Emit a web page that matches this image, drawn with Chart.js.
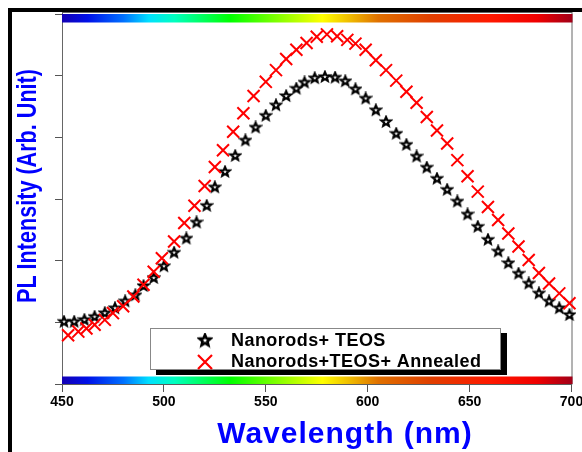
<!DOCTYPE html>
<html>
<head>
<meta charset="utf-8">
<script src="https://cdn.jsdelivr.net/npm/chart.js@4.4.1/dist/chart.umd.min.js"></script>
<style>
  html, body { margin: 0; padding: 0; background: #fff; }
  #wrap { width: 582px; height: 452px; }
</style>
</head>
<body>
<div id="wrap"><canvas id="plChart" width="582" height="452"></canvas></div>
<script>
// values (wavelength in nm, intensity in arb. units)
const teosX = [451, 456, 461, 466, 471, 476, 481, 486, 490, 495, 500, 505, 511, 516, 521, 525,
  530, 535, 540, 545, 550, 555, 560, 565, 569, 574, 579, 584, 589, 594, 599, 604, 609, 614,
  619, 624, 629, 634, 639, 644, 649, 654, 659, 664, 669, 674, 679, 684, 689, 694, 699];
const teosY = [1.01, 1.01, 1.04, 1.09, 1.15, 1.23, 1.34, 1.44, 1.59, 1.72, 1.91, 2.13, 2.36, 2.62, 2.89, 3.19,
  3.44, 3.70, 3.95, 4.16, 4.35, 4.52, 4.67, 4.79, 4.89, 4.96, 4.98, 4.97, 4.91, 4.78, 4.63, 4.44, 4.25, 4.06,
  3.88, 3.69, 3.51, 3.33, 3.15, 2.96, 2.75, 2.55, 2.34, 2.15, 1.96, 1.79, 1.63, 1.47, 1.34, 1.23, 1.12];

const annealedX = [453, 458, 462, 466, 471, 475, 480, 485, 490, 495, 499, 505, 510, 515, 520,
  525, 529, 534, 539, 544, 550, 555, 560, 565, 570, 575, 580, 585, 590, 594, 599, 604, 609, 614,
  619, 624, 629, 634, 639, 644, 649, 654, 659, 664, 669, 674, 679, 684, 689, 694, 699];
const annealedY = [0.79, 0.85, 0.90, 0.96, 1.04, 1.15, 1.26, 1.42, 1.61, 1.82, 2.04, 2.31, 2.61, 2.89, 3.21,
  3.52, 3.79, 4.09, 4.39, 4.67, 4.90, 5.09, 5.27, 5.42, 5.53, 5.63, 5.67, 5.64, 5.58, 5.52, 5.42, 5.25, 5.09, 4.92,
  4.74, 4.56, 4.33, 4.11, 3.90, 3.63, 3.37, 3.12, 2.87, 2.66, 2.44, 2.23, 2.01, 1.80, 1.63, 1.47, 1.31];

const seriesLabels = ["Nanorods+ TEOS", "Nanorods+TEOS+ Annealed"];
const xTicks = [450, 500, 550, 600, 650, 700];

const SPECTRUM = [
  [0, "#1400b4"], [0.05, "#0010e8"], [0.12, "#0070ff"], [0.17, "#00e0ff"], [0.22, "#00ffc0"],
  [0.33, "#00ff00"], [0.42, "#80ff00"], [0.51, "#ffff00"], [0.56, "#f0c000"], [0.62, "#e07000"],
  [0.72, "#e04000"], [0.84, "#ff1800"], [0.93, "#f00000"], [1, "#a00018"]
];

function makeStar(r, lw) {
  const size = Math.ceil(r * 2 + 4);
  const c = document.createElement("canvas");
  c.width = size;
  c.height = size;
  const g = c.getContext("2d");
  g.beginPath();
  for (let i = 0; i < 10; i++) {
    const rad = i % 2 === 0 ? r : r * 0.45;
    const a = -Math.PI / 2 + i * Math.PI / 5;
    g.lineTo(size / 2 + rad * Math.cos(a), size / 2 + rad * Math.sin(a));
  }
  g.closePath();
  g.fillStyle = "#fff";
  g.fill();
  g.lineWidth = lw;
  g.lineJoin = "miter";
  g.strokeStyle = "#000";
  g.stroke();
  return c;
}

const starMark = makeStar(4.8, 2.2);
const legendStar = makeStar(5.8, 2.6);

function spectrumBar(ctx, left, right, top, h) {
  const grad = ctx.createLinearGradient(left, 0, right, 0);
  SPECTRUM.forEach(([p, c]) => grad.addColorStop(p, c));
  ctx.fillStyle = grad;
  ctx.fillRect(left, top, right - left, h);
}

const decorations = {
  id: "decorations",
  beforeDraw(chart) {
    const ctx = chart.ctx;
    ctx.save();
    ctx.fillStyle = "#fff";
    ctx.fillRect(0, 0, chart.width, chart.height);
    ctx.restore();
  },
  beforeDatasetsDraw(chart) {
    const { ctx, chartArea: a } = chart;
    ctx.save();
    ctx.strokeStyle = "#666";
    ctx.lineWidth = 1;
    ctx.strokeRect(a.left + 0.5, a.top - 1.5, a.right - a.left, a.bottom - a.top + 1.5);
    spectrumBar(ctx, a.left, a.right + 1, a.top, 8.5);
    spectrumBar(ctx, a.left, a.right + 1, a.bottom - 7.5, 7.5);
    ctx.restore();
  },
  afterDraw(chart) {
    const ctx = chart.ctx;
    ctx.save();

    // outer frame
    ctx.fillStyle = "#000";
    ctx.fillRect(8, 8, chart.width - 8, 4);
    ctx.fillRect(8, 8, 4, chart.height - 8);

    // legend box with shadow
    ctx.fillStyle = "#000";
    ctx.fillRect(156, 333, 351, 42);
    ctx.fillStyle = "#fff";
    ctx.fillRect(150, 328, 351, 42);
    ctx.strokeStyle = "#888";
    ctx.lineWidth = 1;
    ctx.strokeRect(150.5, 328.5, 350, 41);

    ctx.drawImage(legendStar, 205 - legendStar.width / 2, 340.5 - legendStar.height / 2);
    ctx.strokeStyle = "#ff0000";
    ctx.lineWidth = 2.2;
    ctx.beginPath();
    ctx.moveTo(198, 355); ctx.lineTo(212, 369);
    ctx.moveTo(212, 355); ctx.lineTo(198, 369);
    ctx.stroke();

    ctx.fillStyle = "#000";
    ctx.font = "bold 18px 'Liberation Sans', Arial, sans-serif";
    ctx.letterSpacing = "0.45px";
    ctx.textBaseline = "middle";
    ctx.textAlign = "left";
    ctx.fillText(seriesLabels[0], 231, 341);
    ctx.fillText(seriesLabels[1], 231, 362);

    // axis titles
    ctx.fillStyle = "#0000ff";
    ctx.textAlign = "center";
    ctx.letterSpacing = "1px";
    ctx.font = "bold 30px 'Liberation Sans', Arial, sans-serif";
    ctx.fillText("Wavelength (nm)", 345, 435);

    ctx.letterSpacing = "0px";
    ctx.translate(28, 186);
    ctx.rotate(-Math.PI / 2);
    ctx.scale(0.8, 1);
    ctx.font = "bold 27px 'Liberation Sans', Arial, sans-serif";
    ctx.fillText("PL Intensity (Arb. Unit)", 0, 1);
    ctx.restore();
  }
};

new Chart(document.getElementById("plChart"), {
  type: "scatter",
  data: {
    datasets: [
      {
        label: seriesLabels[0],
        data: teosX.map((x, i) => ({ x, y: teosY[i] })),
        pointStyle: starMark,
        order: 1
      },
      {
        label: seriesLabels[1],
        data: annealedX.map((x, i) => ({ x, y: annealedY[i] })),
        pointStyle: "crossRot",
        pointRadius: 8.5,
        borderColor: "#ff0000",
        backgroundColor: "#ff0000",
        pointBorderWidth: 2,
        order: 0
      }
    ]
  },
  plugins: [decorations],
  options: {
    responsive: false,
    animation: false,
    clip: false,
    layout: { padding: { left: 0, top: 14, right: 7, bottom: 0 } },
    plugins: { legend: { display: false }, tooltip: { enabled: false } },
    elements: { point: { hoverRadius: 0 } },
    scales: {
      x: {
        type: "linear",
        min: 450,
        max: 700,
        afterBuildTicks: s => { s.ticks = xTicks.map(v => ({ value: v })); },
        afterFit: s => { s.height = 68; s.paddingLeft = 0; s.paddingRight = 0; },
        border: { color: "#555", width: 1 },
        grid: { drawOnChartArea: false, drawTicks: true, tickLength: 8, color: "#555" },
        ticks: {
          color: "#000",
          padding: 2,
          maxRotation: 0,
          autoSkip: false,
          font: { family: "'Liberation Sans', Arial, sans-serif", size: 14, weight: "bold" }
        }
      },
      y: {
        type: "linear",
        min: 0,
        max: 6,
        afterFit: s => { s.width = 62; },
        border: { color: "#555", width: 1 },
        grid: { drawOnChartArea: false, drawTicks: true, tickLength: 7, color: "#555" },
        ticks: { stepSize: 1, display: false }
      }
    }
  }
});
</script>
</body>
</html>
